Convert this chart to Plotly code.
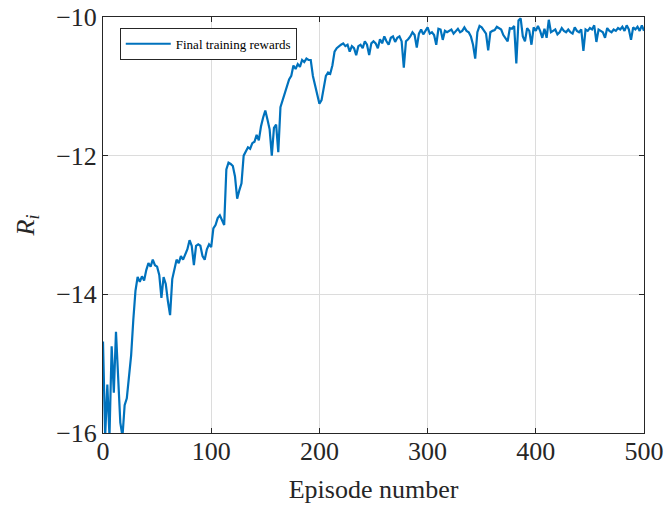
import plotly.graph_objects as go

# Episode numbers (every 2nd episode)
episodes = list(range(0, 501, 2))

# Final training rewards R_i
rewards = [
    -14.68, -16.05, -15.30, -16.05, -14.75, -15.42, -14.54, -15.10, -15.85, -16.05,
    -15.60, -15.50, -15.13, -14.88, -14.37, -13.95, -13.75, -13.82, -13.74, -13.80,
    -13.65, -13.55, -13.60, -13.50, -13.58, -13.60, -13.72, -14.05, -13.75, -13.85,
    -14.10, -14.30, -13.78, -13.65, -13.50, -13.55, -13.45, -13.50, -13.42, -13.35,
    -13.22, -13.30, -13.58, -13.30, -13.28, -13.30, -13.45, -13.50, -13.35, -13.28,
    -13.32, -13.05, -13.00, -12.90, -12.86, -12.92, -13.00, -12.20, -12.10, -12.12,
    -12.15, -12.30, -12.62, -12.50, -12.40, -12.00, -11.94, -11.88, -11.90, -11.82,
    -11.80, -11.70, -11.78, -11.58, -11.45, -11.35, -11.48, -11.62, -12.00, -11.60,
    -11.55, -11.95, -11.30, -11.20, -11.10, -11.00, -10.90, -10.85, -10.70, -10.75,
    -10.68, -10.72, -10.62, -10.65, -10.60, -10.62, -10.62, -10.85, -10.98, -11.10,
    -11.25, -11.20, -11.00, -10.85, -10.80, -10.82, -10.70, -10.50, -10.45, -10.42,
    -10.40, -10.38, -10.42, -10.40, -10.50, -10.42, -10.45, -10.55, -10.42, -10.40,
    -10.45, -10.35, -10.40, -10.55, -10.38, -10.35, -10.38, -10.45, -10.32, -10.38,
    -10.28, -10.35, -10.40, -10.30, -10.28, -10.36, -10.30, -10.28, -10.35, -10.73,
    -10.35, -10.32, -10.28, -10.22, -10.26, -10.44, -10.24, -10.18, -10.25, -10.20,
    -10.15, -10.24, -10.22, -10.26, -10.40, -10.17, -10.18, -10.33, -10.20, -10.22,
    -10.20, -10.18, -10.24, -10.20, -10.17, -10.22, -10.20, -10.15, -10.20, -10.22,
    -10.28, -10.40, -10.60, -10.22, -10.13, -10.15, -10.20, -10.24, -10.48, -10.22,
    -10.20, -10.19, -10.14, -10.16, -10.18, -10.26, -10.30, -10.35, -10.16, -10.17,
    -10.13, -10.67, -10.05, -10.02, -10.28, -10.35, -10.16, -10.20, -10.40, -10.15,
    -10.20, -10.13, -10.20, -10.30, -10.17, -10.30, -10.04, -10.22, -10.20, -10.18,
    -10.25, -10.22, -10.16, -10.20, -10.22, -10.18, -10.22, -10.24, -10.15, -10.20,
    -10.22, -10.18, -10.49, -10.18, -10.20, -10.16, -10.18, -10.12, -10.36, -10.18,
    -10.20, -10.22, -10.30, -10.16, -10.20, -10.22, -10.18, -10.20, -10.16, -10.18,
    -10.14, -10.20, -10.12, -10.18, -10.33, -10.15, -10.18, -10.14, -10.20, -10.12,
    -10.20,
]

x_ticks = [0, 100, 200, 300, 400, 500]
y_ticks = [-16, -14, -12, -10]

FONT = "Liberation Serif, Times New Roman, serif"
AXCOL = "#262626"

fig = go.Figure()
fig.add_trace(go.Scatter(
    x=episodes, y=rewards, mode="lines", name="Final training rewards",
    line=dict(color="#0072BD", width=2.2),
))

axis_common = dict(
    showgrid=True, gridcolor="#DCDCDC", gridwidth=1,
    showline=True, linecolor=AXCOL, linewidth=1, mirror="ticks",
    ticks="inside", ticklen=5, tickcolor=AXCOL, tickwidth=1,
    zeroline=False, automargin=False, ticklabeloverflow="allow",
    tickfont=dict(family=FONT, size=26, color=AXCOL),
)

fig.update_layout(
    width=666, height=505,
    margin=dict(l=103, r=22, t=17, b=72),
    paper_bgcolor="white", plot_bgcolor="white",
    font=dict(family=FONT, color=AXCOL),
    showlegend=True,
    legend=dict(
        x=0.031, y=0.974, xanchor="left", yanchor="top",
        bgcolor="white", bordercolor=AXCOL, borderwidth=1,
        itemwidth=45,
        font=dict(family=FONT, size=13, color="black"),
    ),
    xaxis=dict(
        range=[0, 500], tickvals=x_ticks, ticklabelstandoff=-5,
        title=dict(text="Episode number", font=dict(family=FONT, size=26, color=AXCOL), standoff=14),
        **axis_common,
    ),
    yaxis=dict(
        range=[-16, -10], tickvals=y_ticks,
        title=dict(text="<i>R</i><sub><i>i</i></sub>", font=dict(family=FONT, size=26, color=AXCOL), standoff=14),
        **axis_common,
    ),
)

fig.write_html(
    "out.html",
    config={"displayModeBar": False},
    post_script="document.body.style.margin='0px';document.body.style.overflow='hidden';",
)
